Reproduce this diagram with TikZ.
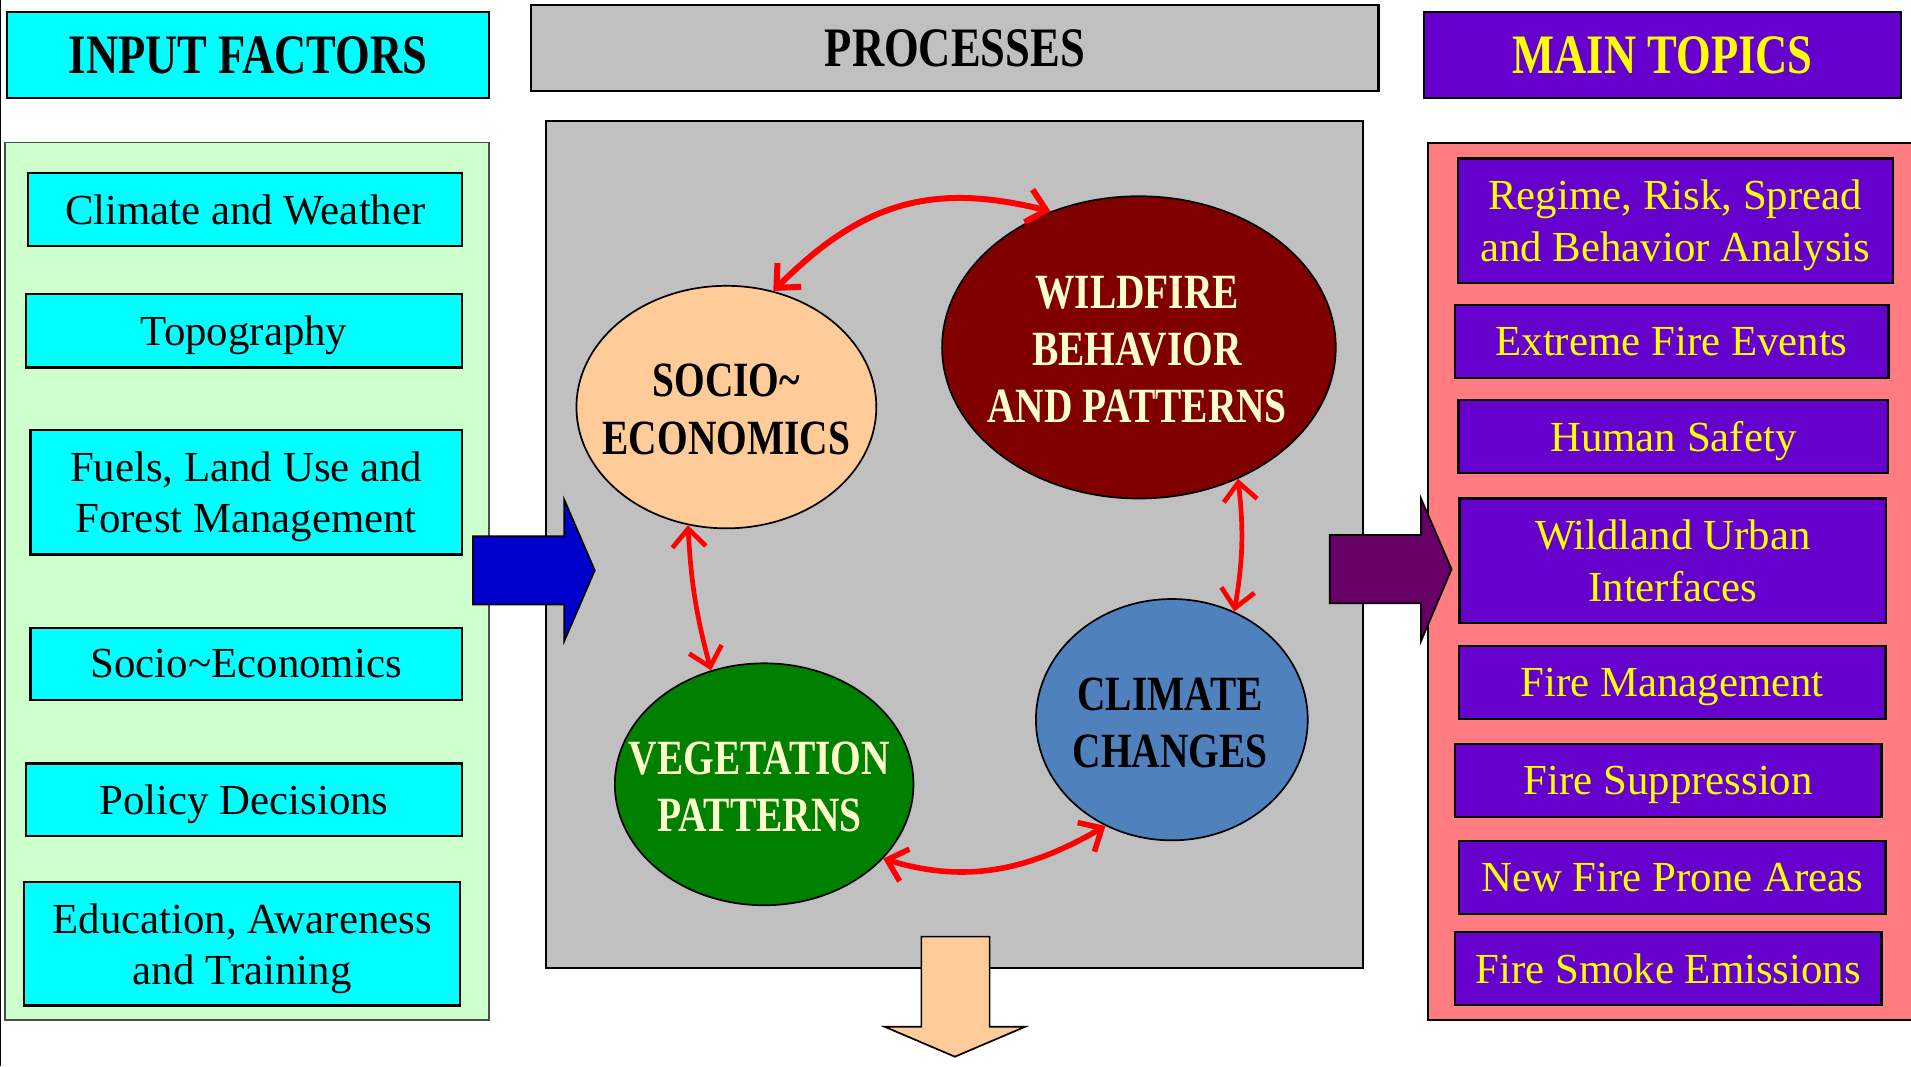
\documentclass[tikz,border=0pt]{standalone}
\usepackage{fontspec}
\setmainfont{Liberation Serif}
\newfontfamily\capsfont{Liberation Serif}[FakeStretch=0.8]
\usetikzlibrary{shapes.geometric,arrows.meta}
\usepackage{xcolor}
\definecolor{mcyan}{HTML}{00FFFF}
\definecolor{mlgreen}{HTML}{CCFFCC}
\definecolor{mgray}{HTML}{C0C0C0}
\definecolor{mpurple}{HTML}{6600CC}
\definecolor{myellow}{HTML}{FFFF00}
\definecolor{mpink}{HTML}{FF7C80}
\definecolor{mpeach}{HTML}{FFCC99}
\definecolor{mdred}{HTML}{800000}
\definecolor{mcream}{HTML}{FFFFCC}
\definecolor{mgreen}{HTML}{008000}
\definecolor{mblue}{HTML}{4F81BD}
\definecolor{marrblue}{HTML}{0000CC}
\definecolor{marrpurple}{HTML}{660066}
\tikzstyle{head}=[draw=black, line width=1pt, minimum height=14.1mm, inner sep=0pt, font={\capsfont\bfseries\fontsize{26}{30}\selectfont}]
\tikzstyle{inbox}=[draw=black, line width=1pt, fill=mcyan, minimum width=71.2mm, minimum height=12mm, inner sep=0pt, align=center, text depth=0pt, font={\fontsize{20}{23.9}\selectfont}]
\tikzstyle{topic}=[inbox, fill=mpurple, text=myellow, minimum width=70mm]
\tikzstyle{proc}=[ellipse, draw=black, line width=0.8pt, inner sep=0pt]
\tikzstyle{proctext}=[align=center, font={\capsfont\bfseries\fontsize{23}{26.7}\selectfont}]
\tikzstyle{twoway}=[draw=red, line width=2.2pt, <->, >={Straight Barb[length=3mm,width=5.5mm]}]
\tikzstyle{block}=[draw=black, line width=0.8pt]

\begin{document}
\begin{tikzpicture}[x=0.2mm, y=-0.2mm]

    \useasboundingbox (0,0) rectangle (1568,875);
    \fill[white] (0,0) rectangle (1568,875);
    \draw[line width=0.6pt] (0.5,0) -- (0.5,875);

    % panels
    \filldraw[fill=mlgreen, draw=black!70, line width=0.8pt] (4,117) rectangle (401,837);
    \filldraw[fill=mgray, draw=black, line width=1pt] (448,99) rectangle (1118,794);
    \filldraw[fill=mpink, draw=black, line width=1pt] (1172,117) rectangle (1575,837);

    \node[head, fill=mcyan, minimum width=79mm] at (203.5,45.25) (inhead) {INPUT FACTORS};
    \node[head, fill=mgray, minimum width=139mm, minimum height=14.2mm] at (783.5,39.5) (prochead) {PROCESSES};
    \node[head, fill=mpurple, text=myellow, minimum width=78.3mm] at (1364.25,45.25) (tophead) {MAIN TOPICS};

    % input factors
    \node[inbox] at (201.25,172) (climate) {Climate and Weather};
    \node[inbox, minimum width=71.5mm] at (200.25,271.5) (topo) {Topography};
    \node[inbox, minimum width=70.8mm, minimum height=20.4mm] at (202,404) (fuels) {Fuels, Land Use and\\Forest Management};
    \node[inbox, minimum width=70.8mm, minimum height=11.8mm] at (202,544.5) (socioin) {Socio\textasciitilde Economics};
    \node[inbox, minimum width=71.5mm, minimum height=11.9mm] at (200.25,656.25) (policy) {Policy Decisions};
    \node[inbox, minimum width=71.5mm, minimum height=20.2mm] at (198.75,774.5) (edu) {Education, Awareness\\and Training};

    % main topics
    \node[topic, minimum width=71.4mm, minimum height=20.4mm] at (1374.5,181) (regime) {Regime, Risk, Spread\\and Behavior Analysis};
    \node[topic, minimum width=71.2mm] at (1371.5,280) (extreme) {Extreme Fire Events};
    \node[topic, minimum width=70.5mm] at (1373,358.4) (safety) {Human Safety};
    \node[topic, minimum height=20.4mm] at (1372.5,460) (wui) {Wildland Urban\\Interfaces};
    \node[topic] at (1372,560) (firemgmt) {Fire Management};
    \node[topic] at (1368.8,640.4) (suppr) {Fire Suppression};
    \node[topic] at (1372,720.2) (prone) {New Fire Prone Areas};
    \node[topic] at (1368.8,794.7) (smoke) {Fire Smoke Emissions};

    % processes
    \node[proc, fill=mpeach, minimum width=49.2mm, minimum height=39.8mm] at (596,334) (socio) {};
    \node[proctext] at (596,336) (sociotext) {SOCIO\textasciitilde\\ECONOMICS};
    \node[proc, fill=mdred, minimum width=64.6mm, minimum height=49.6mm] at (934.5,285) (wild) {};
    \node[proctext, text=mcream] at (933,287) (wildtext) {WILDFIRE\\BEHAVIOR\\AND PATTERNS};
    \node[proc, fill=mgreen, minimum width=49mm, minimum height=39.7mm] at (627,643.5) (veg) {};
    \node[proctext, text=mcream] at (623,646) (vegtext) {VEGETATION\\PATTERNS};
    \node[proc, fill=mblue, minimum width=44.6mm, minimum height=39.6mm] at (961.5,590.5) (clim) {};
    \node[proctext] at (960,593) (climtext) {CLIMATE\\CHANGES};

    \draw[twoway, line width=2.8pt] (socio.68) to[out=45, in=166, looseness=1.1] (wild.123);
    \draw[twoway] (socio.-108) to[bend right=6] (veg.115);
    \draw[twoway] (wild.-53) to[bend left=8] (clim.60);
    \draw[twoway, line width=2.6pt] (veg.-32) to[out=-17, in=210] (clim.-122);

    % block arrows
    \filldraw[block, fill=marrblue] (388,440) -- (463,440) -- (463,410) -- (488,468) -- (463,526) -- (463,496) -- (388,496) -- cycle;
    \filldraw[block, fill=marrpurple] (1091,439) -- (1166,439) -- (1166,409) -- (1191,467) -- (1166,526) -- (1166,495) -- (1091,495) -- cycle;
    \filldraw[block, fill=mpeach] (756,768.5) -- (812,768.5) -- (812,842.5) -- (841,842.5) -- (783.5,867) -- (726,842.5) -- (756,842.5) -- cycle;

\end{tikzpicture}
\end{document}
